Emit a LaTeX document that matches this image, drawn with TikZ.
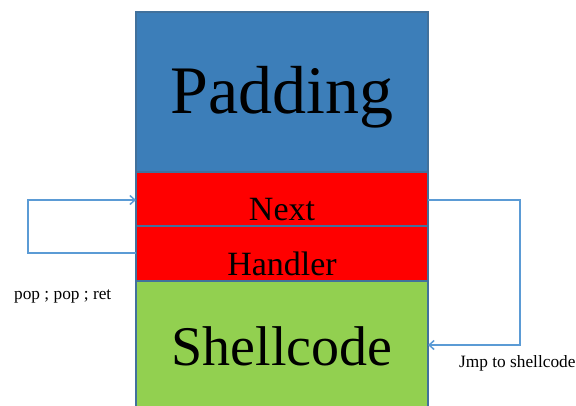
\documentclass[tikz,border=0pt]{standalone}
\usepackage{fontspec}
\setmainfont{Liberation Serif}
\usetikzlibrary{arrows.meta}
\definecolor{padblue}{HTML}{3C7EB9}
\definecolor{edgeblue}{HTML}{41719C}
\definecolor{linkblue}{HTML}{5B9BD5}
\definecolor{shgreen}{HTML}{92D050}
\tikzset{
  slot/.style={draw=edgeblue, line width=1.6pt, minimum width=292pt, inner sep=0pt, outer sep=0pt},
  link/.style={draw=linkblue, line width=1.5pt, -{Straight Barb[length=5pt,width=9pt]}},
  lbl/.style={inner sep=0pt, font=\fontsize{17.3}{19}\selectfont}
}
\begin{document}
\begin{tikzpicture}[x=1pt,y=-1pt]
\clip (0,0) rectangle (576,405);
\useasboundingbox (0,0) rectangle (576,405);
\node[slot, fill=padblue, minimum height=160pt, anchor=north west] (pad) at (136,12) {};
\node[slot, fill=red, minimum height=54pt, anchor=north west] (next) at (136,172) {};
\node[slot, fill=red, minimum height=55pt, anchor=north west] (hand) at (136,226) {};
\node[slot, fill=shgreen, minimum height=140pt, anchor=north west] (shell) at (136,281) {};
\node[font=\fontsize{68}{70}\selectfont] (tpad) at (282,97) {Padding};
\node[font=\fontsize{34}{36}\selectfont] (tnext) at (282,210) {Next};
\node[font=\fontsize{34}{36}\selectfont] (thand) at (282,264) {Handler};
\node[font=\fontsize{56}{58}\selectfont] (tshell) at (282,346) {Shellcode};
\coordinate (lc1) at (28,253);
\coordinate (lc2) at (28,200);
\coordinate (rc1) at (520,200);
\coordinate (rc2) at (520,345);
\draw[link] (hand.west |- lc1) -- (lc1) -- (lc2) -- (next.west |- lc2);
\draw[link] (next.east |- rc1) -- (rc1) -- (rc2) -- (shell.east |- rc2);
\node[lbl, anchor=west] (lpop) at (14,296) {pop ; pop ; ret};
\node[lbl, anchor=west] (ljmp) at (459,363) {Jmp to shellcode};
\end{tikzpicture}
\end{document}
